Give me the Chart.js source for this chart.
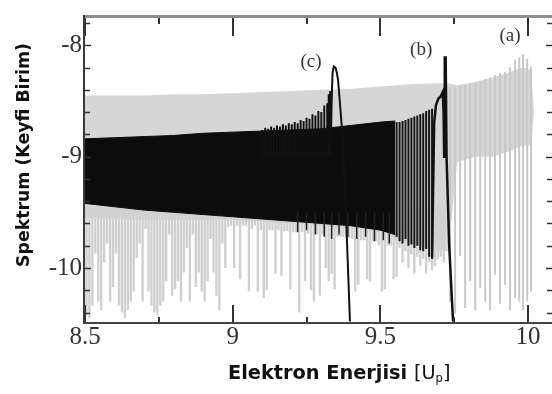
<!DOCTYPE html>
<html><head><meta charset="utf-8">
<script src="https://cdn.jsdelivr.net/npm/chart.js@4"></script>
<style>html,body{margin:0;padding:0;background:#fff}canvas{display:block}</style>
</head><body>
<canvas id="c" width="552" height="394" style="width:552px;height:394px"></canvas>
<script>
// ---------------- DATA ----------------
const xTickValues = [8.5, 9, 9.5, 10];
const yTickValues = [-8, -9, -10];
const xMajorTicks = [8.5, 9, 9.5, 10];
const xMinorTicks = [8.75, 9.25, 9.75];
const yMajorTicks = [-8, -9, -10];
const yMinorTicks = [-7.8, -8.2, -8.4, -8.6, -8.8, -9.2, -9.4, -9.6, -9.8, -10.2, -10.4];

// (a) grey spectrum: dense band (upper / lower edge)
const aX   = [8.50, 8.60, 8.70, 8.80, 8.90, 9.00, 9.10, 9.20, 9.30, 9.40, 9.50, 9.60, 9.68, 9.73, 9.76, 9.82, 9.88, 9.94, 9.98, 10.01, 10.02];
const aTop = [-8.45,-8.45,-8.45,-8.44,-8.44,-8.43,-8.42,-8.41,-8.40,-8.39,-8.37,-8.35,-8.34,-8.34,-8.36,-8.33,-8.29,-8.24,-8.20,-8.22,-8.60];
const aBot = [-9.55,-9.56,-9.57,-9.57,-9.57,-9.57,-9.58,-9.60,-9.62,-9.64,-9.68,-9.78,-9.84,-9.85,-9.05,-9.00,-9.00,-8.95,-8.90,-8.90,-8.60];
// (a) grey dips below the black band
const aCurtainTop = -9.45;
const aSpikeX = [
 8.505,8.515,8.525,8.535,8.545,8.555,8.565,8.575,8.585,8.595,
 8.605,8.615,8.625,8.635,8.645,8.655,8.665,8.675,8.685,8.695,
 8.705,8.715,8.725,8.735,8.745,8.755,8.765,8.775,8.785,8.795,
 8.805,8.815,8.825,8.835,8.845,8.855,8.865,8.875,8.885,8.895,
 8.905,8.915,8.925,8.935,8.945,8.955,8.965,8.975,8.985,8.995,
 9.005,9.015,9.025,9.035,9.045,9.055,9.065,9.075,9.085,9.095,
 9.105,9.115,9.125,9.135,9.145,9.155,9.165,9.175,9.185,9.195,
 9.205,9.215,9.225,9.235,9.245,9.255,9.265,9.275,9.285,9.295,
 9.305,9.315,9.325,9.335,9.345,9.355,9.365,9.375,9.385,9.395,
 9.405,9.415,9.425,9.435,9.445,9.455,9.465,9.475,9.485,9.495,
 9.505,9.515,9.525,9.535,9.545,9.555,9.565,9.575,9.585,9.595,
 9.605,9.615,9.625,9.635,9.645,9.655,9.665,9.675,9.685,9.695,
 9.705,9.715];
const aSpikeLo = [
 -10.42,-10.45,-10.34,-9.87,-10.30,-10.38,-9.95,-9.78,-10.30,-10.17,
 -9.87,-10.34,-10.40,-10.45,-10.38,-10.30,-10.21,-9.91,-9.78,-10.30,
 -9.65,-10.21,-10.34,-10.40,-10.42,-10.34,-10.30,-10.12,-9.70,-10.25,
 -10.19,-10.12,-10.30,-10.04,-9.82,-10.30,-9.70,-10.17,-10.04,-10.21,
 -10.30,-10.12,-9.74,-10.04,-10.25,-10.38,-9.78,-10.00,-9.63,-9.62,
 -10.00,-9.62,-10.10,-9.62,-9.62,-10.21,-9.65,-9.62,-10.21,-9.66,
 -10.27,-10.20,-9.66,-9.66,-10.05,-9.66,-10.07,-9.67,-9.67,-10.19,
 -9.68,-9.68,-10.40,-9.68,-10.12,-9.69,-10.20,-10.30,-9.70,-10.25,
 -9.70,-10.00,-10.12,-10.05,-10.19,-9.72,-9.72,-9.72,-9.73,-9.73,
 -9.74,-10.21,-10.15,-9.75,-9.75,-10.10,-10.12,-9.76,-9.76,-9.80,
 -10.21,-10.19,-9.80,-9.80,-10.10,-10.08,-9.82,-9.95,-9.85,-10.00,
 -9.88,-10.05,-9.90,-9.98,-9.92,-10.05,-9.95,-10.02,-9.98,-9.92,
 -9.90,-9.95];
// (a) separated grey lines beyond the (b) cut-off
const aLineX  = [9.736, 9.753, 9.770, 9.787, 9.804, 9.821, 9.838, 9.855, 9.871, 9.888, 9.905, 9.922, 9.939, 9.956, 9.970, 9.983, 9.997, 10.010];
const aLineHi = [-8.39,-8.38,-8.37,-8.36,-8.35,-8.33,-8.32,-8.30,-8.29,-8.27,-8.25,-8.24,-8.20,-8.13,-8.11,-8.08,-8.12,-8.19];
const aLineLo = [-10.30,-10.41,-9.89,-10.36,-10.12,-10.38,-10.18,-10.30,-10.38,-10.06,-10.32,-10.15,-10.38,-10.27,-10.30,-10.38,-10.30,-10.21];

// (b) black spectrum: dense band
const bX   = [8.50, 8.60, 8.70, 8.80, 8.90, 9.00, 9.10, 9.20, 9.30, 9.40, 9.50, 9.55];
const bTop = [-8.84,-8.83,-8.82,-8.81,-8.79,-8.78,-8.77,-8.76,-8.75,-8.72,-8.69,-8.68];
const bBot = [-9.42,-9.45,-9.48,-9.50,-9.52,-9.54,-9.56,-9.58,-9.60,-9.62,-9.66,-9.70];
// (b) individual oscillations near the cut-off
const bLineX  = [9.555, 9.565, 9.575, 9.585, 9.595, 9.605, 9.615, 9.625, 9.635, 9.645, 9.655, 9.665, 9.675];
const bLineHi = [-8.69,-8.69,-8.68,-8.67,-8.66,-8.65,-8.64,-8.63,-8.62,-8.61,-8.59,-8.58,-8.57];
const bLineLo = [-9.72,-9.76,-9.78,-9.74,-9.80,-9.79,-9.82,-9.80,-9.84,-9.85,-9.83,-9.90,-9.92];
// (b) dips below its band
const bDipTop = -9.5;
const bDipX  = [9.22, 9.25, 9.28, 9.31, 9.335, 9.36, 9.39, 9.42, 9.45, 9.48, 9.51, 9.53];
const bDipLo = [-9.68,-9.66,-9.70,-9.72,-9.74,-9.70,-9.72,-9.74,-9.72,-9.76,-9.75,-9.78];
// (b) last peak and cut-off
const bEndX = [9.675, 9.679, 9.682, 9.688, 9.696, 9.704, 9.711, 9.714, 9.716, 9.718, 9.721, 9.724, 9.733, 9.746];
const bEndY = [-9.90, -9.20, -8.70, -8.54, -8.48, -8.46, -8.42, -8.60, -9.00, -8.11, -8.11, -9.00, -9.80, -10.48];

// (c) black spectrum: rising oscillations above the band
const cLineBottom = -9.0;
const cLineX  = [9.100,9.110,9.120,9.130,9.140,9.150,9.160,9.170,9.180,9.190,9.200,9.210,9.220,9.230,9.240,9.250,9.260,9.270,9.280,9.290,9.300,9.310,9.320,9.325,9.330];
const cLineHi = [-8.76,-8.74,-8.75,-8.73,-8.74,-8.72,-8.73,-8.71,-8.72,-8.70,-8.71,-8.69,-8.70,-8.67,-8.68,-8.65,-8.66,-8.62,-8.63,-8.59,-8.60,-8.54,-8.52,-8.44,-8.41];
// (c) last peak and cut-off
const cEndX = [9.332, 9.335, 9.338, 9.342, 9.348, 9.353, 9.357, 9.364, 9.370, 9.380, 9.397];
const cEndY = [-8.90, -8.50, -8.25, -8.19, -8.20, -8.25, -8.32, -8.55, -8.75, -9.27, -10.48];

// curve labels
const labelText = ['(a)', '(b)', '(c)'];
const labelX = [9.939, 9.638, 9.265];
const labelY = [-7.918, -8.039, -8.15];

// ---------------- helpers ----------------
const pts = (xs, ys) => xs.map((x, i) => ({x, y: ys[i]}));
const segs = (xs, his, los) => {
  const out = [];
  xs.forEach((x, i) => {
    const hi = Array.isArray(his) ? his[i] : his;
    const lo = Array.isArray(los) ? los[i] : los;
    out.push({x, y: hi}, {x, y: lo}, {x, y: null});
  });
  return out;
};

const GREY_FILL = '#d6d6d6', GREY_LINE = '#d0d0d0', BLACK = '#0c0c0c';
const SERIF = '"Liberation Serif", "Times New Roman", serif';
const SANS = '"DejaVu Sans", Verdana, sans-serif';

const frame = {
  id: 'frame',
  afterDatasetsDraw(chart) {
    const {ctx, chartArea: a, scales: {x, y}} = chart;
    ctx.save();
    const ln = (x1, y1, x2, y2) => { ctx.beginPath(); ctx.moveTo(x1, y1); ctx.lineTo(x2, y2); ctx.stroke(); };
    ctx.strokeStyle = '#333'; ctx.lineWidth = 2;
    xMajorTicks.forEach(v => { const p = Math.round(x.getPixelForValue(v)); ln(p, a.bottom, p, a.bottom - 17); ln(p, a.top, p, a.top + 18); });
    xMinorTicks.forEach(v => { const p = Math.round(x.getPixelForValue(v)); ln(p, a.bottom, p, a.bottom - 5); ln(p, a.top, p, a.top + 6); });
    ctx.lineWidth = 1.5;
    yMajorTicks.forEach(v => { const p = Math.round(y.getPixelForValue(v)) + 0.5; ln(a.left, p, a.left + 6, p); ln(a.right, p, a.right - 6, p); });
    yMinorTicks.forEach(v => { const p = Math.round(y.getPixelForValue(v)) + 0.5; ln(a.left, p, a.left + 5, p); ln(a.right, p, a.right - 5, p); });
    // frame
    ctx.strokeStyle = '#8e8e8e'; ctx.lineWidth = 3; ln(a.left - 2, a.top - 1.5, a.right, a.top - 1.5);
    ctx.strokeStyle = '#3a3a3a'; ctx.lineWidth = 2; ln(a.left - 1, a.top - 3, a.left - 1, a.bottom + 2);
    ctx.strokeStyle = '#444'; ctx.lineWidth = 2; ln(a.left - 2, a.bottom + 1, a.right, a.bottom + 1);
    // curve labels
    ctx.fillStyle = '#333'; ctx.font = '19px ' + SERIF; ctx.textAlign = 'center'; ctx.textBaseline = 'middle';
    labelText.forEach((t, i) => ctx.fillText(t, x.getPixelForValue(labelX[i]), y.getPixelForValue(labelY[i])));
    ctx.restore();
  },
  afterDraw(chart) {
    const ctx = chart.ctx;
    ctx.save();
    ctx.fillStyle = '#111';
    // y title
    const yt = 'Spektrum (Keyfi Birim)';
    ctx.font = 'bold 16px ' + SANS;
    let s = 16 * 224 / ctx.measureText(yt).width;
    ctx.font = 'bold ' + s.toFixed(2) + 'px ' + SANS;
    ctx.translate(24, 155); ctx.rotate(-Math.PI / 2);
    ctx.textAlign = 'center'; ctx.textBaseline = 'middle';
    ctx.fillText(yt, 0, 0);
    ctx.setTransform(1, 0, 0, 1, 0, 0);
    // x title
    const xt = 'Elektron Enerjisi ';
    ctx.font = 'bold 16px ' + SANS;
    s = 16 * 186 / ctx.measureText(xt).width;
    ctx.textAlign = 'left'; ctx.textBaseline = 'alphabetic';
    let px = 228, base = 379;
    ctx.font = 'bold ' + s.toFixed(2) + 'px ' + SANS;
    ctx.fillText(xt, px, base); px += ctx.measureText(xt).width;
    ctx.font = s.toFixed(2) + 'px ' + SANS;
    ctx.fillText('[U', px, base); px += ctx.measureText('[U').width;
    ctx.font = (s * 0.6).toFixed(2) + 'px ' + SANS;
    ctx.fillText('p', px, base + 3); px += ctx.measureText('p').width;
    ctx.font = s.toFixed(2) + 'px ' + SANS;
    ctx.fillText(']', px, base);
    ctx.restore();
  }
};

function draw() {
  new Chart(document.getElementById('c'), {
    type: 'line',
    data: {
      datasets: [
        {data: pts(aX, aTop), borderWidth: 0, borderColor: GREY_FILL, backgroundColor: GREY_FILL, fill: '+1', order: 20},
        {data: pts(aX, aBot), borderWidth: 0, borderColor: GREY_FILL, fill: false, order: 21},
        {data: segs(aSpikeX, aCurtainTop, aSpikeLo), borderColor: GREY_LINE, borderWidth: 2.4, fill: false, order: 19},
        {data: segs(aLineX, aLineHi, aLineLo), borderColor: '#c8c8c8', borderWidth: 2, fill: false, order: 18},
        {data: pts(bX, bTop), borderWidth: 1, borderColor: BLACK, backgroundColor: BLACK, fill: '+1', order: 6},
        {data: pts(bX, bBot), borderWidth: 1, borderColor: BLACK, fill: false, order: 7},
        {data: segs(bLineX, bLineHi, bLineLo), borderColor: '#151515', borderWidth: 2, fill: false, order: 5},
        {data: segs(bDipX, bDipTop, bDipLo), borderColor: '#222', borderWidth: 1.5, fill: false, order: 5},
        {data: segs(cLineX, cLineHi, cLineBottom), borderColor: '#111', borderWidth: 2, fill: false, order: 4},
        {data: pts(cEndX, cEndY), borderColor: '#111', borderWidth: 2, fill: false, order: 3},
        {data: pts(bEndX, bEndY), borderColor: '#111', borderWidth: 2.5, fill: false, order: 2}
      ]
    },
    options: {
      responsive: false, animation: false, devicePixelRatio: 1,
      layout: {padding: {top: 4, right: 0, left: 0, bottom: 0}},
      plugins: {legend: {display: false}, tooltip: {enabled: false}},
      elements: {point: {radius: 0}, line: {tension: 0, borderCapStyle: 'butt'}},
      scales: {
        x: {
          type: 'linear', min: 8.5, max: 10.081, offset: false,
          grid: {display: false, drawTicks: false}, border: {display: false},
          afterBuildTicks: s => { s.ticks = xTickValues.map(v => ({value: v})); },
          afterFit: s => { s.height = 72; },
          ticks: {autoSkip: false, maxRotation: 0, padding: 0, color: '#333',
            font: {family: SERIF, size: 25}, callback: v => String(v)}
        },
        y: {
          type: 'linear', min: -10.485, max: -7.755,
          grid: {display: false, drawTicks: false}, border: {display: false},
          afterBuildTicks: s => { s.ticks = yTickValues.map(v => ({value: v})); },
          afterFit: s => { s.width = 85; },
          ticks: {autoSkip: false, padding: 3, color: '#333',
            font: {family: SERIF, size: 25}, callback: v => String(v)}
        }
      }
    },
    plugins: [frame]
  });
}

Promise.all([
  document.fonts.load('25px "Liberation Serif"'),
  document.fonts.load('bold 16px "DejaVu Sans"'),
  document.fonts.load('16px "DejaVu Sans"')
]).then(draw, draw);
</script></body></html>
